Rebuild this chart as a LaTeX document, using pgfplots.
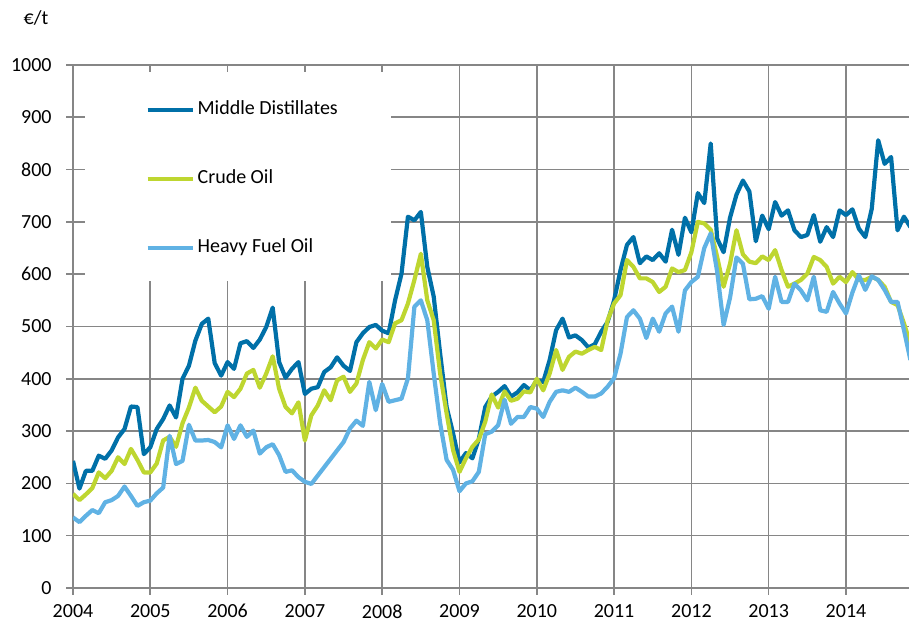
\documentclass[border=0pt]{standalone}
\usepackage{pgfplots}
\usepackage{pgfplotstable}
\pgfplotsset{compat=1.18}
\usepackage{fontspec}
\setmainfont{Carlito}
\definecolor{md}{RGB}{0,112,168}
\definecolor{co}{RGB}{190,214,48}
\definecolor{hfo}{RGB}{96,178,228}
\definecolor{gridc}{RGB}{134,134,134}

% monthly values, Jan 2004 -- Nov 2014
\pgfplotstableread{
md co hfo
243 180 135
190 168 126
224 179 138
224 191 149
253 221 143
247 210 164
263 224 168
288 250 176
304 237 194
347 266 176
346 245 157
256 221 164
269 221 167
304 238 181
323 282 192
349 289 291
326 270 237
400 315 243
425 345 312
473 383 282
505 358 282
515 347 283
430 336 279
406 347 269
432 375 311
419 365 285
468 381 311
472 410 289
459 417 301
475 383 257
499 410 269
536 443 275
432 381 254
402 346 222
419 334 225
432 355 212
371 282 203
381 330 199
384 349 215
413 378 231
422 359 247
441 397 263
425 404 279
415 375 305
470 391 320
487 436 310
499 470 394
503 458 340
492 475 390
487 470 356
550 506 359
601 512 362
710 544 401
703 589 538
719 639 550
614 550 512
557 512 410
448 410 315
346 334 245
296 264 226
240 222 185
258 248 200
248 270 204
285 284 222
346 318 294
366 370 299
375 345 311
386 376 360
366 358 314
374 362 327
388 376 327
378 374 346
397 400 343
394 378 327
436 410 356
493 455 375
515 417 378
479 442 375
483 452 383
474 448 375
460 455 366
466 461 366
490 455 372
509 512 385
550 544 401
608 560 448
656 627 518
671 614 531
621 592 515
634 592 478
627 585 515
640 566 490
624 576 525
685 611 538
637 604 490
708 608 569
680 642 585
755 700 595
736 697 650
850 685 678
668 633 605
642 576 503
708 620 555
752 684 632
779 638 620
758 624 552
663 621 553
712 634 558
686 627 534
738 646 595
712 608 547
722 576 547
684 582 582
671 589 569
675 601 550
713 633 595
662 627 531
690 614 528
671 582 566
722 595 544
713 585 525
724 604 565
687 589 598
671 589 570
725 595 596
856 589 589
811 576 570
824 547 547
684 541 547
710 506 493
690 467 436
}\data

\begin{document}
\begin{tikzpicture}[font=\fontsize{10}{12}\selectfont]
\useasboundingbox (-36.5pt,-21pt) rectangle (418pt,294pt);
\begin{axis}[
  scale only axis, width=419.35pt, height=261.5pt,
  xmin=2004, xmax=2014.85, ymin=0, ymax=1000,
  xtick={2004,2005,...,2014}, ytick={0,100,...,1000},
  grid=major, major grid style={gridc, line width=0.8pt},
  axis line style={gridc, line width=0.8pt},
  tick style={gridc, line width=0.8pt},
  tick align=outside, major tick length=3.5pt, tick pos=left,
  /pgf/number format/1000 sep={},
  /pgf/number format/assume math mode=true,
  ticklabel style={font=\fontsize{10}{12}\selectfont, text=black},
  yticklabel style={anchor=east, inner sep=0pt, xshift=-7pt},
  xticklabel style={anchor=north, inner sep=0pt, yshift=-4.5pt},
  ylabel={€/t},
  ylabel style={rotate=-90, at={(axis description cs:-0.0441,1.0899)}, anchor=center, inner sep=0pt},
  legend cell align=left,
  legend style={draw=none, fill=none, at={(axis cs:2004.854,940)}, anchor=north west,
    row sep=25.5pt, column sep=1.5pt,
    nodes={inner sep=0pt, text height=7pt, text depth=2pt},
    font=\fontsize{10}{12}\selectfont},
  legend image code/.code={\draw[#1] (0pt,0pt) -- (22.5pt,0pt);},
  every axis plot/.append style={line width=2.1pt, line join=round},
]
\fill[white] (axis cs:2004.155,587) rectangle (axis cs:2008.114,986.6);
\addplot[md, no markers] table[x expr=2004+\coordindex/12, y=md] {\data};
\addlegendentry{Middle Distillates}
\addplot[co, no markers] table[x expr=2004+\coordindex/12, y=co] {\data};
\addlegendentry{Crude Oil}
\addplot[hfo, no markers] table[x expr=2004+\coordindex/12, y=hfo] {\data};
\addlegendentry{Heavy Fuel Oil}
\end{axis}
\end{tikzpicture}
\end{document}
